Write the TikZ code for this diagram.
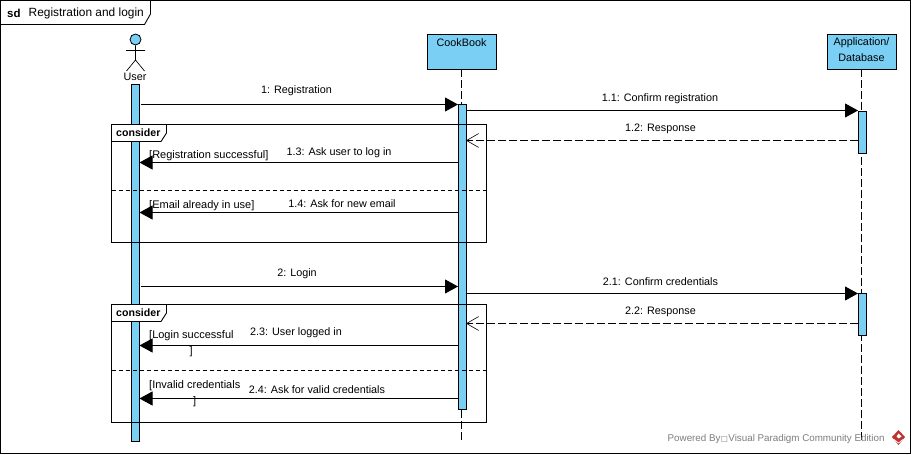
\documentclass[tikz,border=0pt]{standalone}
\usepackage{fontspec}
\setmainfont{Liberation Sans}
\newfontfamily\symfont{DejaVu Sans}
\usetikzlibrary{arrows.meta,calc}
\definecolor{vpblue}{RGB}{122,207,245}
\definecolor{vpred}{RGB}{190,50,50}
\definecolor{vpgrey}{RGB}{125,125,125}
\tikzset{
  x=1pt,y=-1pt,
  ln/.style={draw=black,line width=0.9pt},
  lbl/.style={font=\fontsize{10.8}{12}\selectfont,inner sep=0pt,anchor=center,yshift=-1.2pt},
  guard/.style={font=\fontsize{11}{12}\selectfont,inner sep=0pt,anchor=west,yshift=-1.2pt},
  headbox/.style={draw=black,line width=0.9pt,fill=vpblue,minimum width=69pt,minimum height=35pt,inner sep=0pt},
  life/.style={draw=black,line width=0.8pt,dash pattern=on 8pt off 3pt},
  activ/.style={draw=black,line width=0.8pt,fill=vpblue},
  sync/.style={draw=black,line width=0.9pt,-{Triangle[length=13pt,width=14pt]}},
  reply/.style={draw=black,line width=0.8pt,dash pattern=on 8pt off 3pt,-{Straight Barb[length=12pt,width=13pt,angle'=60,line width=0.6pt]}},
  frag/.style={draw=black,line width=0.9pt},
  divider/.style={draw=black,line width=0.8pt,dash pattern=on 4pt off 3pt},
  tabtext/.style={font=\bfseries\fontsize{10.6}{12}\selectfont,inner sep=0pt,anchor=west},
}
\begin{document}
\begin{tikzpicture}
\useasboundingbox (0,0) rectangle (911,455);
\fill[white] (0,0) rectangle (911,455);
% outer frame
\draw[frag] (0.5,0.5) rectangle (910.5,453.5);
\draw[frag,fill=white] (0.5,0.5) -- (150.5,0.5) -- (150.5,14) -- (144.5,24.5) -- (0.5,24.5) -- cycle;
\node[tabtext,font=\bfseries\fontsize{11.5}{13}\selectfont] (sdk) at (7,13) {sd};
\node[guard,font=\fontsize{11.9}{13}\selectfont,yshift=1.2pt] (sdt) at (28.5,13) {Registration and login};
% heads
\node[headbox] (cook) at (461.5,51.5) {};
\node[lbl] (cookt) at (461.5,41.5) {CookBook};
\node[headbox] (app) at (861.5,51.5) {};
\node[lbl] (appt) at (861.5,41.5) {Application/};
\node[lbl] (appt2) at (861.5,56.5) {Database};
% lifelines
\coordinate (cookend) at (461.5,441);
\coordinate (append) at (861.5,441);
\draw[life] (cook.south) -- (cookend);
\draw[life] (app.south) -- (append);
% actor
\node[circle,draw=black,line width=0.8pt,fill=vpblue,minimum size=11pt,inner sep=0pt] (head) at (135.5,39.5) {};
\coordinate (hip) at (135.5,60);
\coordinate (armL) at (126,50.5);
\coordinate (armR) at (145,50.5);
\coordinate (legL) at (126.5,71);
\coordinate (legR) at (144.5,71);
\draw[line width=0.7pt] (head.south) -- (hip) (armL) -- (armR) (legL) -- (hip) -- (legR);
\node[lbl] (usert) at (135,76) {User};
% activations
\node[activ,minimum width=8pt,minimum height=357pt,inner sep=0pt] (ua) at (135.5,262.5) {};
\node[activ,minimum width=8pt,minimum height=305pt,inner sep=0pt] (ca) at (462,256.5) {};
\node[activ,minimum width=8pt,minimum height=42pt,inner sep=0pt] (aa1) at (862,132) {};
\node[activ,minimum width=8pt,minimum height=42pt,inner sep=0pt] (aa2) at (862,314) {};
% fragments
\draw[frag] (111.5,124.5) rectangle (486.5,242.5);
\draw[frag,fill=white] (111.5,124.5) -- (166.5,124.5) -- (166.5,133) -- (161,141.5) -- (111.5,141.5) -- cycle;
\node[tabtext] (c1) at (116,133) {consider};
\draw[divider] (111.5,190.5) -- (486.5,190.5);
\draw[frag] (111.5,304.5) rectangle (486.5,422.5);
\draw[frag,fill=white] (111.5,304.5) -- (166.5,304.5) -- (166.5,313) -- (161,321.5) -- (111.5,321.5) -- cycle;
\node[tabtext] (c2) at (116,312.5) {consider};
\draw[divider] (111.5,370.5) -- (486.5,370.5);
% message anchors
\coordinate (m1a) at (141,104.5); \coordinate (m1b) at (458,104.5);
\coordinate (m11a) at (466,110.5); \coordinate (m11b) at (858,110.5);
\coordinate (m12a) at (858,140.5); \coordinate (m12b) at (466,140.5);
\coordinate (m13a) at (458,162.5); \coordinate (m13b) at (139.5,162.5);
\coordinate (m14a) at (458,212.5); \coordinate (m14b) at (139.5,212.5);
\coordinate (m2a) at (141,286.5); \coordinate (m2b) at (458,286.5);
\coordinate (m21a) at (466,293.5); \coordinate (m21b) at (858,293.5);
\coordinate (m22a) at (858,323.5); \coordinate (m22b) at (466,323.5);
\coordinate (m23a) at (458,345.5); \coordinate (m23b) at (139.5,345.5);
\coordinate (m24a) at (458,398.5); \coordinate (m24b) at (139.5,398.5);
\draw[sync] (m1a) -- (m1b);
\draw[sync] (m11a) -- (m11b);
\draw[reply] (m12a) -- (m12b);
\draw[sync] (m13a) -- (m13b);
\draw[sync] (m14a) -- (m14b);
\draw[sync] (m2a) -- (m2b);
\draw[sync] (m21a) -- (m21b);
\draw[reply] (m22a) -- (m22b);
\draw[sync] (m23a) -- (m23b);
\draw[sync] (m24a) -- (m24b);
% labels
\node[lbl] (l1) at (296.5,90) {1: Registration};
\node[lbl] (l11) at (660,97.5) {1.1: Confirm registration};
\node[lbl] (l12) at (660.5,127.5) {1.2: Response};
\node[lbl] (l13) at (339,152) {1.3: Ask user to log in};
\node[lbl] (l14) at (342,202) {1.4: Ask for new email};
\node[lbl] (l2) at (297,273) {2: Login};
\node[lbl] (l21) at (660.5,280.5) {2.1: Confirm credentials};
\node[lbl] (l22) at (660.5,310.5) {2.2: Response};
\node[lbl] (l23) at (296,332) {2.3: User logged in};
\node[lbl] (l24) at (317,388.5) {2.4: Ask for valid credentials};
\node[guard] (g1) at (149,154) {[Registration successful]};
\node[guard] (g2) at (149,204) {[Email already in use]};
\node[guard] (g3) at (149,334) {[Login successful};
\node[guard] (g3b) at (189.5,350) {]};
\node[guard] (g4) at (149,384) {[Invalid credentials};
\node[guard] (g4b) at (193,400) {]};
% footer
\node[guard,text=vpgrey,font=\fontsize{9.8}{12}\selectfont,yshift=1.2pt] (pw) at (667.5,438.5) {Powered By\hspace{0.4pt}{\symfont\fontsize{7.5}{10}\selectfont □}\hspace{0.4pt}Visual Paradigm Community Edition};
\fill[vpred] (898.5,430) -- (905,437) -- (898.5,445) -- (892,437) -- cycle;
\draw[white,line width=0.7pt] (894,439.5) -- (898.5,443) -- (903,439.5);
\fill[white] (898.5,433.5) -- (901.5,436.5) -- (898.5,438.5) -- (896.5,436.5) -- cycle;
\end{tikzpicture}
\end{document}
